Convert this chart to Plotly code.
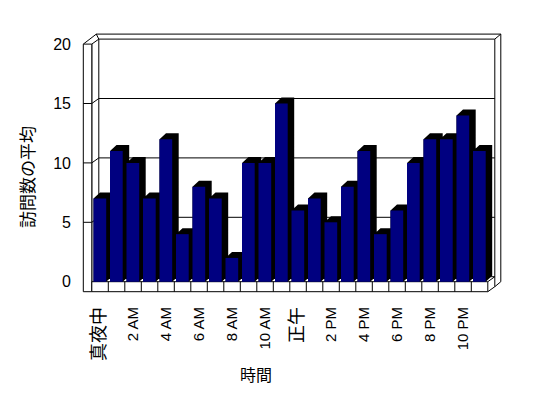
import plotly.graph_objects as go

# ---------------- data ----------------
hours = list(range(24))
visits = [7, 11, 10, 7, 12, 4, 8, 7, 2, 10, 10, 15,
          6, 7, 5, 8, 11, 4, 6, 10, 12, 12, 14, 11]
x_tick_pos = [0, 2, 4, 6, 8, 10, 12, 14, 16, 18, 20, 22]
x_tick_labels = ["真夜中", "2 AM", "4 AM", "6 AM", "8 AM", "10 AM",
                 "正午", "2 PM", "4 PM", "6 PM", "8 PM", "10 PM"]
y_ticks = [0, 5, 10, 15, 20]
y_title = "訪問数の平均"
x_title = "時間"

# ---------------- geometry (pixel scale of the front plane) ----------------
PAGE = 8         # browser body margin offset of the figure in the window
W_PX = 16.5      # pixels per category
H_PX = 11.88     # pixels per value unit
X0_PX = 100.05 - PAGE   # figure pixel x of category 0 centre
Y0_PX = 281.7 - PAGE    # figure pixel y of value 0
L, R, T, B = 72, 52, 22, 111
FIG_W, FIG_H = 548, 398
PW, PH = FIG_W - L - R, FIG_H - T - B

def dx(p):
    return p / W_PX

def dy(p):
    return p / H_PX

x_range = [(L - X0_PX) / W_PX, (FIG_W - R - X0_PX) / W_PX]
y_range = [(Y0_PX - (FIG_H - B)) / H_PX, (Y0_PX - T) / H_PX]

FL = hours[0] - 0.5
FR = hours[-1] + 0.5
TOP = y_ticks[-1]
TF = dy(10)          # floor thickness
WL = dx(8.5)         # left wall thickness
D1 = (dx(7), dy(5))  # depth to inner face of back wall
D2 = (dx(13), dy(10))  # depth to outer face of back wall
BAR_L = dx(1.7)
BAR_W = dx(12.7)
BAR_D = (dx(6.5), dy(6))

LINE = dict(color="black", width=1)
shapes = []

def seg(x0, y0, x1, y1):
    shapes.append(dict(type="line", xref="x", yref="y", x0=x0, y0=y0,
                       x1=x1, y1=y1, line=LINE, layer="below"))

def rect(x0, y0, x1, y1):
    shapes.append(dict(type="rect", xref="x", yref="y", x0=x0, y0=y0,
                       x1=x1, y1=y1, line=LINE, fillcolor="white",
                       layer="below"))

# back wall top and edges
A = (FL - WL, TOP)
Bp = (FL, TOP)
C = (FL + D1[0], TOP + D1[1])
E = (FL - WL + D2[0], TOP + D2[1])
G = (FR + D2[0], TOP + D2[1])
Hh = (FR + D1[0], TOP + D1[1])
seg(*A, *E)
seg(*Bp, *C)
seg(*E, *G)
seg(*C, *Hh)
seg(*Hh, *G)
seg(E[0], E[1], C[0], C[1])
# left wall inner back edge
seg(C[0], C[1], C[0], 0 + D1[1])
# right side of back wall
seg(Hh[0], Hh[1], Hh[0], -TF + D1[1])
seg(G[0], G[1], G[0], -TF + D2[1])
seg(FR, -TF, FR + D1[0], -TF + D1[1])
seg(FR + D1[0], -TF + D1[1], FR + D2[0], -TF + D2[1])
# floor top face
seg(FL + D1[0], D1[1], FR + D1[0], D1[1])
seg(FR, 0, FR + D1[0], D1[1])
# gridlines
for v in y_ticks[1:-1]:
    seg(FL + D1[0], v + D1[1], FR + D1[0], v + D1[1])
    seg(FL, v, FL + D1[0], v + D1[1])
# left wall front face and floor front face
seg(FL, 0, FL, TOP)
rect(FL - WL, -TF, FL, TOP)
for v in y_ticks[1:-1]:
    seg(FL - WL, v, FL, v)
rect(FL, -TF, FR, 0)
for h in hours[1:]:
    seg(h - 0.5, -TF, h - 0.5, 0)

# ---------------- bar depth faces (black) ----------------
px, py = [], []
for h, v in zip(hours, visits):
    x0 = h - 0.5 + BAR_L
    x1 = x0 + BAR_W
    pts = [(x0, 0), (x0, v), (x0 + BAR_D[0], v + BAR_D[1]),
           (x1 + BAR_D[0], v + BAR_D[1]), (x1 + BAR_D[0], BAR_D[1]),
           (x1, 0), (x0, 0)]
    for a, b in pts:
        px.append(a)
        py.append(b)
    px.append(None)
    py.append(None)

fig = go.Figure()
fig.add_trace(go.Scatter(x=px, y=py, mode="lines", fill="toself",
                         fillcolor="black", line=dict(width=0, color="black"),
                         hoverinfo="skip", xaxis="x", yaxis="y"))
# ---------------- bar front faces ----------------
fig.add_trace(go.Bar(x=hours, y=visits, width=BAR_W, offset=BAR_L - 0.5,
                     marker=dict(color="#000080", line=dict(width=0)),
                     xaxis="x2", yaxis="y2", hoverinfo="skip"))

FONT = "Liberation Sans, Arial, Noto Sans CJK JP, sans-serif"

def lab(t):
    if any(ord(c) > 255 for c in t):
        return "<span style='font-size:18px'>" + t + "</span>"
    return t

fig.update_layout(
    width=FIG_W, height=FIG_H,
    margin=dict(l=L, r=R, t=T, b=B, pad=0),
    paper_bgcolor="white", plot_bgcolor="white",
    showlegend=False,
    font=dict(family=FONT, color="black", size=15),
    shapes=shapes,
    xaxis=dict(range=x_range, tickvals=x_tick_pos,
               ticktext=[lab(t) for t in x_tick_labels], tickangle=-90,
               showgrid=False, zeroline=False, showline=False, ticks="",
               ticklabelstandoff=8, tickfont=dict(size=15)),
    yaxis=dict(range=y_range, tickvals=y_ticks, showgrid=False,
               zeroline=False, showline=False, ticks="",
               ticklabelstandoff=8, tickfont=dict(size=16)),
    xaxis2=dict(range=x_range, overlaying="x", visible=False),
    yaxis2=dict(range=y_range, overlaying="y", visible=False),
    annotations=[
        dict(text=x_title, xref="paper", yref="paper",
             x=(256 - PAGE - L) / PW, y=((FIG_H - B) - (375 - PAGE)) / PH,
             xanchor="center", yanchor="middle", showarrow=False,
             font=dict(size=16)),
        dict(text=y_title, xref="paper", yref="paper",
             x=(28.3 - PAGE - L) / PW, y=((FIG_H - B) - (176.7 - PAGE)) / PH,
             xanchor="center", yanchor="middle", showarrow=False,
             textangle=-90, font=dict(size=17)),
    ],
)

fig.write_html("out.html")
